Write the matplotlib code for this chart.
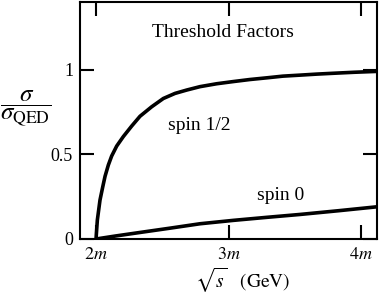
import matplotlib
matplotlib.use("Agg")
from matplotlib import pyplot as plt

plt.rcParams['font.family'] = ['Liberation Serif', 'DejaVu Serif']
plt.rcParams['mathtext.fontset'] = 'stix'

# sqrt(s) in units of m, sigma/sigma_QED
x_half = [2.0, 2.010, 2.03, 2.051, 2.068, 2.093, 2.118, 2.156, 2.206, 2.269, 2.332,
          2.42, 2.508, 2.596, 2.685, 2.785, 2.91, 3.036, 3.16, 3.288, 3.41, 3.54,
          3.665, 3.791, 3.95, 4.118]
y_half = [0.0, 0.112, 0.23, 0.309, 0.37, 0.437, 0.49, 0.549, 0.605, 0.667, 0.725,
          0.781, 0.83, 0.86, 0.88, 0.90, 0.917, 0.93, 0.942, 0.952, 0.962, 0.968,
          0.974, 0.979, 0.985, 0.99]

x_zero = [2.0, 2.15, 2.3, 2.55, 2.785, 3.036, 3.29, 3.54, 3.83, 4.118]
y_zero = [0.0, 0.018, 0.035, 0.063, 0.09, 0.11, 0.128, 0.145, 0.167, 0.19]

xticks = [2, 3, 4]
xticklabels = [r'$2m$', r'$3m$', r'$4m$']
yticks = [0, 0.5, 1]
yticklabels = ['0', '0.5', '1']

fig = plt.figure(figsize=(3.82, 2.99), dpi=100)
ax = fig.add_axes([0.2094, 0.2007, 0.987 - 0.2094, 0.9933 - 0.2007])

ax.plot(x_half, y_half, color='black', lw=2.6, solid_capstyle='butt')
ax.plot(x_zero, y_zero, color='black', lw=2.6, solid_capstyle='butt')

ax.set_xlim(1.879, 4.121)
ax.set_ylim(0, 1.4)

ax.set_xticks(xticks)
ax.set_xticklabels(xticklabels)
ax.set_yticks(yticks)
ax.set_yticklabels(yticklabels)
ax.tick_params(direction='in', length=10, width=1.5, top=True, right=True,
               labelsize=13, pad=5)

for s in ax.spines.values():
    s.set_linewidth(1.5)

ax.text(2.958, 1.221, 'Threshold Factors', ha='center', va='center', fontsize=14)
ax.text(2.777, 0.673, 'spin 1/2', ha='center', va='center', fontsize=14)
ax.text(3.396, 0.254, 'spin 0', ha='center', va='center', fontsize=14)

fig.text(0.068, 0.642, r'$\dfrac{\sigma}{\sigma_{\rm QED}}$', ha='center', va='center', fontsize=18)
fig.text(0.636, 0.062, r'$\sqrt{s}\quad(\rm GeV)$', ha='center', va='center', fontsize=14)

fig.savefig('out.png', dpi=100)
